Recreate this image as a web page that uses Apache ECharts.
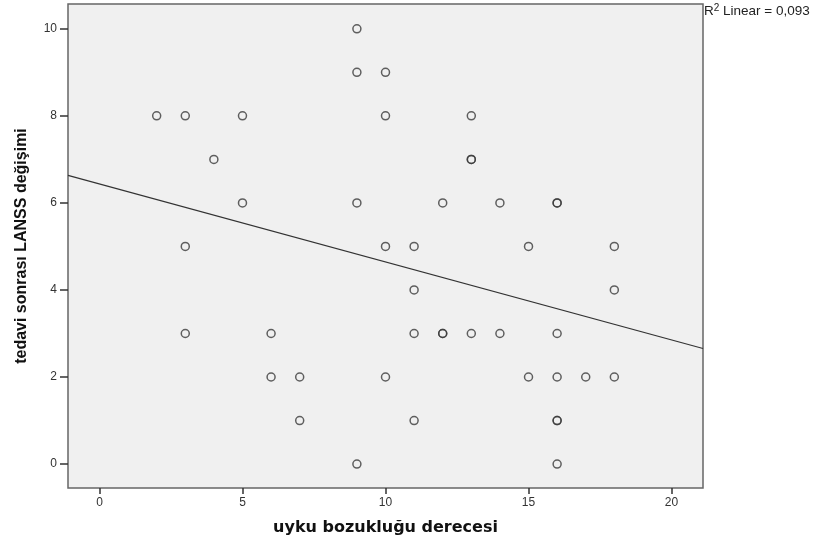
<!DOCTYPE html>
<html>
<head>
<meta charset="utf-8">
<script src="https://cdn.jsdelivr.net/npm/echarts@6/dist/echarts.min.js"></script>
<style>
  html, body { margin: 0; padding: 0; background: #fff; }
  #chart { width: 813px; height: 545px; }
</style>
</head>
<body>
<div id="chart"></div>
<script>
// uyku bozukluğu derecesi (x) vs tedavi sonrası LANSS değişimi (y)
var xValues = [9, 9, 10, 2, 3, 5, 10, 13, 4, 13, 13, 5, 9, 12, 14, 16, 16,
    3, 10, 11, 15, 18, 11, 18, 3, 6, 11, 12, 12, 13, 14, 16,
    6, 7, 10, 15, 16, 17, 18, 7, 11, 16, 16, 9, 16];
var yValues = [10, 9, 9, 8, 8, 8, 8, 8, 7, 7, 7, 6, 6, 6, 6, 6, 6,
    5, 5, 5, 5, 5, 4, 4, 3, 3, 3, 3, 3, 3, 3, 3,
    2, 2, 2, 2, 2, 2, 2, 1, 1, 1, 1, 0, 0];
var xTicks = [0, 5, 10, 15, 20];
var yTicks = [0, 2, 4, 6, 8, 10];

var xMin = -1.1, xMax = 21.1;
var yMin = -0.55, yMax = 10.57;

// least squares fit
var n = xValues.length;
var mx = 0, my = 0;
for (var i = 0; i < n; i++) { mx += xValues[i]; my += yValues[i]; }
mx /= n; my /= n;
var sxy = 0, sxx = 0, syy = 0;
for (var i = 0; i < n; i++) {
    sxy += (xValues[i] - mx) * (yValues[i] - my);
    sxx += (xValues[i] - mx) * (xValues[i] - mx);
    syy += (yValues[i] - my) * (yValues[i] - my);
}
var slope = sxy / sxx;
var intercept = my - slope * mx;
var r2 = (sxy * sxy) / (sxx * syy);

var points = xValues.map(function (x, i) { return [x, yValues[i]]; });
var fitLine = [[xMin, intercept + slope * xMin], [xMax, intercept + slope * xMax]];

var font = 'Liberation Sans, Arial, sans-serif';
var chart = echarts.init(document.getElementById('chart'));
var option = {
    animation: false,
    backgroundColor: '#fff',
    textStyle: { fontFamily: font },
    grid: {
        left: 68,
        top: 4,
        right: 110,
        bottom: 57,
        show: true,
        backgroundColor: '#f0f0f0',
        borderColor: '#666',
        borderWidth: 1.5,
    },
    xAxis: {
        type: 'value',
        min: xMin,
        max: xMax,
        name: 'uyku bozukluğu derecesi',
        nameLocation: 'middle',
        nameGap: 32,
        nameTextStyle: { fontSize: 16, fontWeight: 'bold', color: '#111', fontFamily: 'DejaVu Sans' },
        axisLine: { show: false, onZero: false },
        axisTick: { show: true, length: 6, customValues: xTicks, lineStyle: { color: '#333', width: 1.5 } },
        axisLabel: { customValues: xTicks, color: '#333', fontSize: 12, margin: 9 },
        splitLine: { show: false },
    },
    yAxis: {
        type: 'value',
        min: yMin,
        max: yMax,
        name: 'tedavi sonrası LANSS değişimi',
        nameLocation: 'middle',
        nameGap: 38,
        nameTextStyle: { fontSize: 16, fontWeight: 'bold', color: '#111' },
        axisLine: { show: false, onZero: false },
        axisTick: { show: true, length: 8, customValues: yTicks, lineStyle: { color: '#333', width: 1.5 } },
        axisLabel: { customValues: yTicks, color: '#333', fontSize: 12, margin: 11 },
        splitLine: { show: false },
    },
    graphic: [{
        type: 'text',
        left: 704,
        top: 3,
        style: {
            text: '{b|R}{s|2}{b| Linear = ' + r2.toFixed(3).replace('.', ',') + '}',
            rich: {
                b: { fontSize: 13.5, fill: '#222', fontFamily: font, verticalAlign: 'bottom' },
                s: { fontSize: 10, fill: '#222', fontFamily: font, verticalAlign: 'top', padding: [0, 0, 5, 0] },
            },
        },
    }],
    series: [
        {
            type: 'line',
            data: fitLine,
            symbol: 'none',
            silent: true,
            lineStyle: { color: '#333', width: 1.2 },
            z: 2,
        },
        {
            type: 'scatter',
            data: points,
            symbol: 'circle',
            symbolSize: 8,
            itemStyle: { color: 'rgba(0,0,0,0)', borderColor: '#3a3a3a', borderWidth: 1.5 },
            z: 3,
        },
    ],
};
chart.setOption(option);
</script>
</body>
</html>
